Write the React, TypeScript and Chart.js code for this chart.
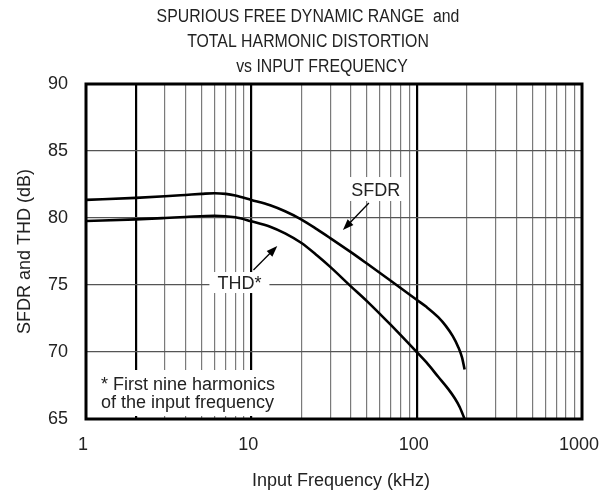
import React, { useEffect, useRef } from "react";
import { Chart, registerables } from "chart.js";

Chart.register(...registerables);

// ---- data ----
const sfdrFreq = [1, 2, 3, 4, 5, 6, 7, 8, 10, 13, 16, 20, 25, 30, 40, 50, 70, 100, 115, 135, 150, 165, 178, 188, 195];
const sfdrDb = [81.35, 81.5, 81.62, 81.72, 81.8, 81.85, 81.8, 81.68, 81.35, 80.95, 80.5, 79.9, 79.15, 78.5, 77.45, 76.6, 75.3, 73.9, 73.35, 72.6, 71.95, 71.2, 70.4, 69.6, 68.7];
const thdFreq = [1, 2, 3, 4, 6, 8, 10, 13, 16, 20, 25, 30, 40, 50, 70, 100, 115, 135, 155, 170, 182, 195];
const thdDb = [79.78, 79.9, 80.0, 80.08, 80.17, 80.05, 79.75, 79.35, 78.85, 78.15, 77.2, 76.35, 74.9, 73.8, 72.0, 70.0, 69.2, 68.15, 67.25, 66.55, 65.9, 65.0];

const xLabelValues = [1, 10, 100, 1000];
const xGridValues = [
  1, 2, 3, 4, 5, 6, 7, 8, 9,
  10, 20, 30, 40, 50, 60, 70, 80, 90,
  100, 200, 300, 400, 500, 600, 700, 800, 900, 1000,
];
const xThickGrid = [2, 10, 100];
const yMin = 65;
const yMax = 90;
const yStep = 5;

const titleLines = ["SPURIOUS FREE DYNAMIC RANGE  and", "TOTAL HARMONIC DISTORTION", "vs INPUT FREQUENCY"];
const xTitle = "Input Frequency (kHz)";
const yTitle = "SFDR and THD (dB)";
const footnoteLines = ["* First nine harmonics", "of the input frequency"];

// annotations in data coordinates (freq kHz, dB)
const sfdrLabel = { text: "SFDR", f: 56.6, db: 81.64 };
const sfdrArrow = { f1: 51.4, db1: 81.12, f2: 35.8, db2: 79.1 };
const thdLabel = { text: "THD*", f: 8.47, db: 74.7 };
const thdArrow = { f1: 10.3, db1: 76.12, f2: 14.35, db2: 77.91 };

const FONT = '"Liberation Sans", Arial, Helvetica, sans-serif';
const TEXT = "#222";

function arrow(ctx: CanvasRenderingContext2D, x1: number, y1: number, x2: number, y2: number) {
  const ang = Math.atan2(y2 - y1, x2 - x1);
  const hl = 11;
  const hw = 4;
  ctx.strokeStyle = "#000";
  ctx.lineWidth = 1.3;
  ctx.beginPath();
  ctx.moveTo(x1, y1);
  ctx.lineTo(x2 - Math.cos(ang) * hl * 0.8, y2 - Math.sin(ang) * hl * 0.8);
  ctx.stroke();
  ctx.fillStyle = "#000";
  ctx.beginPath();
  ctx.moveTo(x2, y2);
  ctx.lineTo(x2 - Math.cos(ang) * hl - Math.sin(ang) * hw, y2 - Math.sin(ang) * hl + Math.cos(ang) * hw);
  ctx.lineTo(x2 - Math.cos(ang) * hl + Math.sin(ang) * hw, y2 - Math.sin(ang) * hl - Math.cos(ang) * hw);
  ctx.closePath();
  ctx.fill();
}

const overlayPlugin = {
  id: "overlay",
  afterDatasetsDraw(chart: any) {
    const { ctx, chartArea: a, scales } = chart;
    const x = scales.x;
    const y = scales.y;
    ctx.save();
    ctx.font = `18px ${FONT}`;

    // footnote box
    ctx.fillStyle = "#fff";
    ctx.fillRect(a.left + 2, a.bottom - 49, 204, 46);
    ctx.fillStyle = TEXT;
    ctx.textAlign = "left";
    ctx.textBaseline = "alphabetic";
    ctx.fillText(footnoteLines[0], a.left + 15, a.bottom - 29);
    ctx.fillText(footnoteLines[1], a.left + 15, a.bottom - 11);

    // SFDR label
    const sx = x.getPixelForValue(sfdrLabel.f);
    const sy = y.getPixelForValue(sfdrLabel.db);
    const sw = ctx.measureText(sfdrLabel.text).width;
    ctx.fillStyle = "#fff";
    ctx.fillRect(sx - sw / 2 - 5, sy - 19, sw + 10, 24);
    ctx.fillStyle = TEXT;
    ctx.textAlign = "center";
    ctx.fillText(sfdrLabel.text, sx, sy);
    arrow(
      ctx,
      x.getPixelForValue(sfdrArrow.f1),
      y.getPixelForValue(sfdrArrow.db1),
      x.getPixelForValue(sfdrArrow.f2),
      y.getPixelForValue(sfdrArrow.db2)
    );

    // THD label
    const tx = x.getPixelForValue(thdLabel.f);
    const ty = y.getPixelForValue(thdLabel.db);
    const tw = ctx.measureText(thdLabel.text).width;
    ctx.fillStyle = "#fff";
    ctx.fillRect(tx - tw / 2 - 8, ty - 17, tw + 16, 21);
    ctx.fillStyle = TEXT;
    ctx.fillText(thdLabel.text, tx, ty);
    arrow(
      ctx,
      x.getPixelForValue(thdArrow.f1),
      y.getPixelForValue(thdArrow.db1),
      x.getPixelForValue(thdArrow.f2),
      y.getPixelForValue(thdArrow.db2)
    );

    // plot border
    ctx.strokeStyle = "#000";
    ctx.lineWidth = 3;
    ctx.strokeRect(a.left, a.top, a.right - a.left, a.bottom - a.top);
    ctx.restore();
  },
  afterDraw(chart: any) {
    const { ctx, chartArea: a } = chart;
    ctx.save();
    ctx.fillStyle = TEXT;
    ctx.textAlign = "center";
    ctx.textBaseline = "alphabetic";
    // title (condensed)
    ctx.font = `18px ${FONT}`;
    const centers = [308, 308, 322];
    const baselines = [22, 47, 72];
    titleLines.forEach((line, i) => {
      ctx.save();
      ctx.translate(centers[i], baselines[i]);
      ctx.scale(0.88, 1);
      ctx.fillText(line, 0, 0);
      ctx.restore();
    });
    // x title
    ctx.fillText(xTitle, 341, 486);
    // y title
    ctx.save();
    ctx.translate(30, (a.top + a.bottom) / 2);
    ctx.rotate(-Math.PI / 2);
    ctx.fillText(yTitle, 0, 0);
    ctx.restore();
    ctx.restore();
  },
};

export default function App() {
  const canvasRef = useRef<HTMLCanvasElement | null>(null);

  useEffect(() => {
    const canvas = canvasRef.current;
    if (!canvas) return;
    const chart = new Chart(canvas, {
      type: "line",
      data: {
        datasets: [
          {
            label: "SFDR",
            data: sfdrFreq.map((f, i) => ({ x: f, y: sfdrDb[i] })),
            borderColor: "#000",
            borderWidth: 2.6,
            pointRadius: 0,
            fill: false,
            cubicInterpolationMode: "monotone",
          },
          {
            label: "THD",
            data: thdFreq.map((f, i) => ({ x: f, y: thdDb[i] })),
            borderColor: "#000",
            borderWidth: 2.6,
            pointRadius: 0,
            fill: false,
            cubicInterpolationMode: "monotone",
          },
        ],
      },
      options: {
        responsive: false,
        animation: false,
        devicePixelRatio: 1,
        layout: { padding: { top: 84, right: 22, bottom: 0, left: 0 } },
        plugins: {
          legend: { display: false },
          title: { display: false },
          tooltip: { enabled: false },
        },
        scales: {
          x: {
            type: "logarithmic",
            min: 1,
            max: 1000,
            afterBuildTicks: (s: any) => {
              s.ticks = xGridValues.map((v) => ({ value: v }));
            },
            afterFit: (s: any) => {
              s.height = 74;
              s.paddingLeft = 0;
              s.paddingRight = 0;
            },
            ticks: {
              autoSkip: false,
              maxRotation: 0,
              minRotation: 0,
              padding: 15,
              labelOffset: -3,
              color: TEXT,
              font: { family: FONT, size: 18 },
              callback: (v: any) => (xLabelValues.includes(Number(v)) ? String(v) : ""),
            },
            grid: {
              drawTicks: false,
              color: (c: any) => (c.tick && xThickGrid.includes(c.tick.value) ? "#000" : "#7a7a7a"),
              lineWidth: (c: any) => (c.tick && xThickGrid.includes(c.tick.value) ? 2.2 : 1.2),
            },
            border: { display: false },
          },
          y: {
            type: "linear",
            min: yMin,
            max: yMax,
            afterFit: (s: any) => {
              s.width = 86;
              s.paddingTop = 0;
              s.paddingBottom = 0;
            },
            ticks: {
              stepSize: yStep,
              padding: 18,
              color: TEXT,
              font: { family: FONT, size: 18 },
            },
            grid: {
              drawTicks: false,
              color: "#555",
              lineWidth: 1.3,
            },
            border: { display: false },
          },
        },
      },
      plugins: [overlayPlugin],
    });
    return () => chart.destroy();
  }, []);

  return (
    <div style={{ position: "fixed", left: 0, top: 0, width: 604, height: 493, background: "#fff" }}>
      <canvas ref={canvasRef} width={604} height={493} style={{ width: 604, height: 493 }} />
    </div>
  );
}
